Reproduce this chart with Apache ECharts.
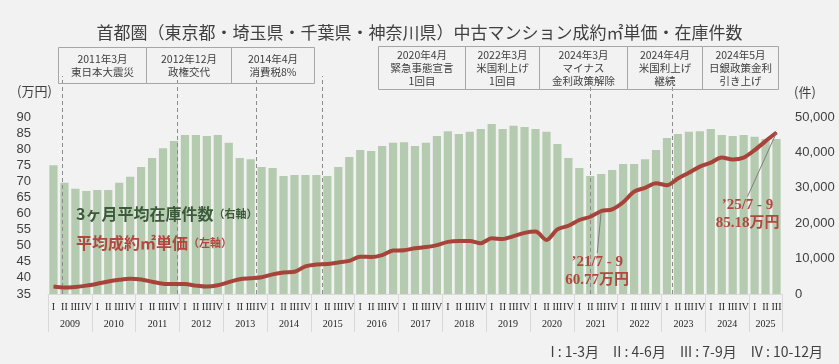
<!DOCTYPE html>
<html><head><meta charset="utf-8">
<script src="https://cdn.jsdelivr.net/npm/echarts@6/dist/echarts.min.js"></script>
<style>html,body{margin:0;padding:0;background:#f2f2f2;}#c{width:839px;height:364px;}</style>
</head><body><div id="c"></div>
<script>
// ---- data ----
const years = ['2009','2010','2011','2012','2013','2014','2015','2016','2017','2018','2019','2020','2021','2022','2023','2024','2025'];
const quarterNames = ['I','II','III','IV'];
const quartersInLastYear = 3;
// 3ヶ月平均在庫件数 (right axis)
const stock = [36400,31400,29700,29100,29400,29400,31400,33100,
  35900,38400,41200,43200,44900,44900,44600,44900,
  42700,38400,38100,35900,35600,33300,33600,33600,
  33600,33300,35900,38700,40700,40400,41800,42700,
  42900,41800,42700,44600,46000,45200,45800,46600,
  48000,46600,47500,47200,46600,45800,42400,38400,
  35600,33300,33900,35000,36700,36700,38100,40700,
  44100,45200,45800,46000,46600,44900,44600,44900,
  44400,43800,43800];
// 平均成約㎡単価 (left axis, 万円)
const price = [37.3,37.0,37.2,37.6,38.2,38.9,39.4,39.7,
  39.5,38.8,38.2,38.1,38.1,37.6,37.3,37.7,
  38.7,39.6,39.9,40.2,41.1,41.7,41.9,43.6,
  44.2,44.3,44.8,45.3,46.6,46.5,47.1,48.5,
  48.6,49.2,49.6,50.2,51.2,51.5,51.5,50.8,
  52.3,52.1,53.0,54.0,54.4,51.8,55.1,56.2,
  58.0,59.0,60.77,61.3,63.5,66.8,68.0,69.4,
  68.8,70.9,72.7,74.6,75.8,77.4,76.8,77.4,
  79.7,82.5,85.18];
const priceCallouts = [{index: 50, text: '’21/7 - 9\n60.77万円'}, {index: 66, text: '’25/7 - 9\n85.18万円'}];
const eventsRow1 = [['2011年3月','東日本大震災'],['2012年12月','政権交代'],['2014年4月','消費税8%']];
const eventsRow2 = [['2020年4月','緊急事態宣言','1回目'],['2022年3月','米国利上げ','1回目'],['2024年3月','マイナス','金利政策解除'],['2024年4月','米国利上げ','継続'],['2024年5月','日銀政策金利','引き上げ']];
const eventLinePos = [1.28, 11.77, 18.98, 25.0, 49.5, 57.0]; // in quarter units from start
const titleText = '首都圏（東京都・埼玉県・千葉県・神奈川県）中古マンション成約㎡単価・在庫件数';
const noteText = 'I : 1-3月　II : 4-6月　III : 7-9月　IV : 10-12月';

// ---- build ----
const cats = [];
years.forEach((y, i) => {
  const n = i === years.length - 1 ? quartersInLastYear : 4;
  for (let q = 0; q < n; q++) cats.push(y + '|' + quarterNames[q]);
});
const total = cats.length;
const yearCenters = years.map((y, i) => i === years.length - 1 ? (i * 4 + total) / 2 : i * 4 + 2);
const yearBounds = years.map((y, i) => i * 4).concat([total]);

const sans = '"Liberation Sans","Noto Sans CJK JP",sans-serif';
const cjk = '"Noto Sans CJK JP",sans-serif';
const serif = '"Liberation Serif","Noto Sans CJK JP",serif';
const textCol = '#404040';
const lineCol = '#a8433a';
const barCol = '#b4cbaf';

const priceData = price.map((v, i) => {
  const c = priceCallouts.find(p => p.index === i);
  if (!c) return v;
  return {value: v, symbol: 'circle', symbolSize: 1,
    label: {show: true, formatter: c.text}};
});

const graphics = [];
graphics.push({type: 'text', left: 'center', top: 24,
  style: {text: titleText, font: '17px ' + cjk, fill: textCol}});
function box(x0, x1, y0, y1, lines) {
  graphics.push({type: 'rect', shape: {x: x0, y: y0, width: x1 - x0, height: y1 - y0},
    style: {fill: 'rgba(0,0,0,0)', stroke: '#a6a6a6', lineWidth: 1}, z: 10});
  graphics.push({type: 'text', x: (x0 + x1) / 2, y: (y0 + y1) / 2, z: 11,
    style: {text: lines.join('\n'), font: '10.5px ' + cjk, fill: textCol, lineHeight: 13,
      align: 'center', verticalAlign: 'middle'}});
}
const row1X = [58, 146, 231, 314];
eventsRow1.forEach((e, i) => box(row1X[i] + 0.5, row1X[i + 1] + 0.5, 47.5, 83.5, e));
const row2X = [378, 465, 539, 627, 702, 778];
eventsRow2.forEach((e, i) => box(row2X[i] + 0.5, row2X[i + 1] + 0.5, 46.5, 89.5, e));
graphics.push({type: 'text', x: 17, y: 91, style: {text: '(万円)', font: '13px ' + cjk, fill: textCol, verticalAlign: 'middle'}});
graphics.push({type: 'text', x: 794, y: 92, style: {text: '(件)', font: '13px ' + cjk, fill: textCol, verticalAlign: 'middle'}});
graphics.push({type: 'text', x: 76, y: 214, z: 20, style: {
  text: '{a|3ヶ月平均在庫件数}{b|（右軸）}', verticalAlign: 'middle',
  rich: {a: {font: 'bold 16px ' + cjk, fill: '#3b5a3a'}, b: {font: 'bold 11px ' + cjk, fill: '#3b5a3a'}}}});
graphics.push({type: 'text', x: 76, y: 243, z: 20, style: {
  text: '{a|平均成約㎡単価}{b|（左軸）}', verticalAlign: 'middle',
  rich: {a: {font: 'bold 16px ' + cjk, fill: '#b2473d'}, b: {font: 'bold 11px ' + cjk, fill: '#b2473d'}}}});
graphics.push({type: 'text', right: 16, top: 345, style: {text: noteText, font: '14px ' + cjk, fill: textCol}});

const chart = echarts.init(document.getElementById('c'), null, {renderer: 'canvas'});
chart.setOption({
  backgroundColor: '#f2f2f2',
  animation: false,
  grid: [
    {left: 48, right: 57, top: 117, bottom: 70},
    {left: 48, right: 57, top: 76, bottom: 70}
  ],
  xAxis: [
    {type: 'category', gridIndex: 0, data: cats, boundaryGap: true,
      axisLine: {lineStyle: {color: '#d9d9d9'}}, axisTick: {show: false},
      axisLabel: {interval: 0, formatter: v => v.split('|')[1], fontFamily: serif, fontSize: 10, color: '#262626', margin: 8}},
    {type: 'value', gridIndex: 0, min: 0, max: total, position: 'bottom',
      axisLine: {show: false}, splitLine: {show: false},
      axisTick: {show: true, customValues: yearBounds, length: 38, lineStyle: {color: '#d9d9d9'}},
      axisLabel: {customValues: yearCenters, formatter: v => { const i = yearCenters.indexOf(v); return i >= 0 ? years[i] : ''; },
        fontFamily: serif, fontSize: 10, color: '#262626', margin: 25}},
    {type: 'value', gridIndex: 1, min: 0, max: total, show: false}
  ],
  yAxis: [
    {type: 'value', gridIndex: 0, min: 35, max: 90, interval: 5, position: 'left',
      axisLine: {show: false}, axisTick: {show: false}, splitLine: {show: false},
      axisLabel: {fontFamily: sans, fontSize: 13, color: textCol, margin: 17}},
    {type: 'value', gridIndex: 0, min: 0, max: 50000, interval: 10000, position: 'right',
      axisLine: {show: false}, axisTick: {show: false}, splitLine: {show: false},
      axisLabel: {fontFamily: sans, fontSize: 13, color: textCol, margin: 13,
        formatter: v => v.toLocaleString('en-US')}},
    {type: 'value', gridIndex: 1, min: 0, max: 1, show: false}
  ],
  series: [
    {type: 'bar', xAxisIndex: 0, yAxisIndex: 1, data: stock, barCategoryGap: '25%',
      itemStyle: {color: barCol}, z: 1},
    {type: 'scatter', xAxisIndex: 2, yAxisIndex: 2, data: [[0, -1]], symbolSize: 0, z: 3,
      markLine: {silent: true, symbol: 'none', label: {show: false},
        lineStyle: {type: [4, 3], color: '#8c8c8c', width: 1},
        data: eventLinePos.map(x => ({xAxis: x}))}},
    {type: 'line', xAxisIndex: 0, yAxisIndex: 0, data: priceData, smooth: 0.3,
      symbol: 'none', showSymbol: true, showAllSymbol: true, z: 5,
      lineStyle: {color: lineCol, width: 4}, itemStyle: {color: lineCol},
      label: {position: 'inside', fontFamily: serif, fontWeight: 'bold', fontSize: 15, lineHeight: 18, color: '#b2473d', align: 'center'},
      labelLine: {show: true, lineStyle: {color: '#7f7f7f', width: 1}},
      labelLayout: p => p.dataIndex === priceCallouts[0].index ? {dx: -4, dy: 60} : {dx: -29, dy: 82}}
  ],
  graphic: graphics
});
</script></body></html>
